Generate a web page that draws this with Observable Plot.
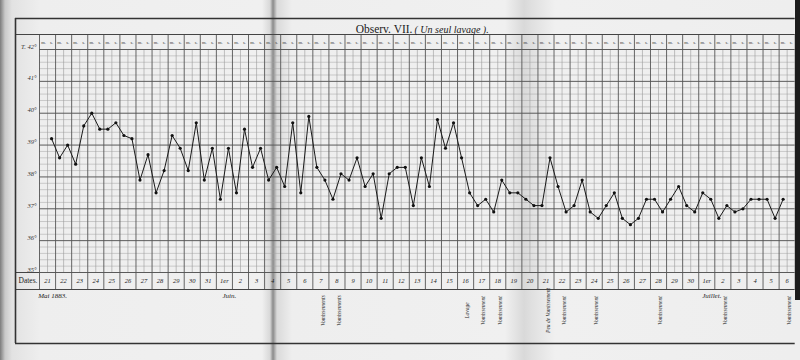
<!DOCTYPE html>
<html><head><meta charset="utf-8">
<script src="https://cdn.jsdelivr.net/npm/d3@7"></script>
<script src="https://cdn.jsdelivr.net/npm/@observablehq/plot@0.6"></script>
<style>
html,body{margin:0;padding:0;background:#ececec;}
#wrap{position:relative;width:800px;height:360px;overflow:hidden;
background:linear-gradient(to right,#7c7c7c 0px,#c9c9c9 5px,#e2e2e2 12px,#eeeeee 40px,#f0f0f0 262px,#d8d8d8 270px,#8a8a8a 273px,#dadada 277px,#eeeeee 292px,#f0f0f0 505px,#d9d9d9 524px,#e0e0e0 532px,#f0f0f0 555px,#eeeeee 788px);}
#edge{position:absolute;left:795px;top:0;width:5px;height:300px;background:#1c1c1c;}
</style></head><body>
<div id="wrap"><div id="chart"></div><div id="edge"></div></div>
<script>
// ---- data ----
const dayLabels = ["21","22","23","24","25","26","27","28","29","30","31",
  "1er","2","3","4","5","6","7","8","9","10","11","12","13","14","15","16","17","18","19","20",
  "21","22","23","24","25","26","27","28","29","30",
  "1er","2","3","4","5","6"];
const monthLabels = ["Mai 1883.", "Juin.", "Juillet."];
const monthFirstDay = [0, 11, 41];
// temperatures, matin / soir, starting on the evening of 21 May
const temperatures = [
  39.2,
  38.6, 39.0, 38.4, 39.6, 40.0, 39.5, 39.5, 39.7, 39.3, 39.2,
  37.9, 38.7, 37.5, 38.2, 39.3, 38.9, 38.2, 39.7, 37.9, 38.9,
  37.3, 38.9, 37.5, 39.5, 38.3, 38.9, 37.9, 38.3, 37.7, 39.7,
  37.5, 39.9, 38.3, 37.9, 37.3, 38.1, 37.9, 38.6, 37.7, 38.1,
  36.7, 38.1, 38.3, 38.3, 37.1, 38.6, 37.7, 39.8, 38.9, 39.7,
  38.6, 37.5, 37.1, 37.3, 36.9, 37.9, 37.5, 37.5, 37.3, 37.1,
  37.1, 38.6, 37.7, 36.9, 37.1, 37.9, 36.9, 36.7, 37.1, 37.5,
  36.7, 36.5, 36.7, 37.3, 37.3, 36.9, 37.3, 37.7, 37.1, 36.9,
  37.5, 37.3, 36.7, 37.1, 36.9, 37.0, 37.3, 37.3, 37.3, 36.7,
  37.3
];
const firstHalfDay = 1; // 0 = matin du 21 mai, 1 = soir
const yTickValues = [42, 41, 40, 39, 38, 37, 36, 35];
const yTickLabels = ["T. 42°", "41°", "40°", "39°", "38°", "37°", "36°", "35°"];
const noteDays = [17, 18, 26, 27, 28, 31, 32, 34, 38, 42, 46];
const noteTexts = ["Vomissements", "Vomissements", "Lavage", "Vomissement", "Vomissement",
  "Peu de Vomissement", "Vomissement", "Vomissement", "Vomissement", "Vomissement", "Vomissement"];
const titleMain = "Observ. VII.";
const titleSub = "( Un seul lavage ).";

// ---- derived tables ----
const nHalf = dayLabels.length * 2;
const points = temperatures.map((t, i) => ({h: i + firstHalfDay, t}));
const halfDays = d3.range(nHalf).map(h => ({h, lab: h % 2 ? "s." : "m."}));
const days = dayLabels.map((lab, d) => ({h: 2 * d + 0.5, lab}));
const months = monthLabels.map((lab, i) => ({h: 2 * monthFirstDay[i] + 0.5, lab}));
const notes = noteTexts.map((lab, i) => ({h: 2 * noteDays[i] + 0.75, lab}));
const yTicks = yTickValues.map((v, i) => ({v, lab: yTickLabels[i]}));

// layout helpers (pixel -> data units) for the printed form's frame
const W = 800, H = 360, mL = 39, mR = 5.3, mT = 49, mB = 88;
const xDom = [-0.5, nHalf - 0.5], yDom = [35, 42];
const xAt = px => xDom[0] + (px - mL) * (xDom[1] - xDom[0]) / (W - mL - mR);
const yAt = px => yDom[0] + (H - mB - px) * (yDom[1] - yDom[0]) / (H - mB - mT);
const yTitleTop = yAt(18), yHeadTop = yAt(34), yHeadMid = yAt(42.5), yTitle = yAt(29);
const yDatesBot = yAt(289), yDates = yAt(280.5), yBottom = yAt(343), yMonth = yAt(295), yNote = yAt(310);
const xLeft = xAt(15), xRight = xDom[1];
const minor = d3.range(35, 42.01, 0.2).filter(v => Math.abs(v - Math.round(v)) > 0.05);
const fontSerif = "Liberation Serif, DejaVu Serif, serif";

const plot = Plot.plot({
  width: W, height: H,
  marginLeft: mL, marginRight: mR, marginTop: mT, marginBottom: mB,
  x: {domain: xDom, axis: null},
  y: {domain: yDom, axis: null},
  style: {background: "transparent", fontFamily: fontSerif, overflow: "visible"},
  marks: [
    // grid
    Plot.ruleY(minor, {x1: xDom[0], x2: xDom[1], stroke: "#a2a2a2", strokeWidth: 0.5}),
    Plot.ruleX(d3.range(0.5, nHalf, 2), {y1: 35, y2: 42, stroke: "#9a9a9a", strokeWidth: 0.6}),
    Plot.ruleY(d3.range(35, 43), {x1: xDom[0], x2: xDom[1], stroke: "#5a5a5a", strokeWidth: 1}),
    Plot.ruleX(d3.range(-0.5, nHalf, 2), {y1: yDatesBot, y2: yHeadTop, stroke: "#555", strokeWidth: 0.9}),
    // frame of the printed form
    Plot.ruleY([yTitleTop], {x1: xLeft, x2: xRight, stroke: "#333", strokeWidth: 1.6}),
    Plot.ruleY([yHeadTop], {x1: xLeft, x2: xRight, stroke: "#444", strokeWidth: 1}),
    Plot.ruleY([35], {x1: xLeft, x2: xDom[0], stroke: "#444", strokeWidth: 1}),
    Plot.ruleY([yDatesBot], {x1: xLeft, x2: xRight, stroke: "#444", strokeWidth: 1}),
    Plot.ruleY([yBottom], {x1: xLeft, x2: xRight, stroke: "#333", strokeWidth: 1.6}),
    Plot.ruleX([xLeft], {y1: yBottom, y2: yTitleTop, stroke: "#333", strokeWidth: 1.6}),
    // header m. / s.
    Plot.text(halfDays, {x: "h", y: yHeadMid, text: "lab", fontSize: 4.5, fill: "#333"}),
    // y labels
    Plot.text(yTicks, {x: xDom[0], y: "v", text: "lab", textAnchor: "end", dx: -3, dy: -3, fontSize: 6.5, fontStyle: "italic", fill: "#333"}),
    // dates row
    Plot.text(["Dates."], {x: xLeft, y: yDates, text: d => d, textAnchor: "start", dx: 3, fontSize: 7.5, fill: "#222"}),
    Plot.text(days, {x: "h", y: yDates, text: "lab", fontSize: 6.5, fontStyle: "italic", fill: "#222"}),
    Plot.text(months, {x: "h", y: yMonth, text: "lab", fontSize: 7, fontStyle: "italic", dx: 5, fill: "#222"}),
    Plot.text(notes, {x: "h", y: yNote, text: "lab", rotate: -90, fontSize: 5.5, fontStyle: "italic", fill: "#2a2a2a"}),
    // title
    Plot.text([titleMain], {x: xAt(412), y: yTitle, text: d => d, textAnchor: "end", fontSize: 11.5, fill: "#222"}),
    Plot.text([titleSub], {x: xAt(414), y: yTitle, text: d => d, textAnchor: "start", fontSize: 10, fontStyle: "italic", fill: "#222"}),
    // temperature curve
    Plot.line(points, {x: "h", y: "t", stroke: "#1a1a1a", strokeWidth: 1}),
    Plot.dot(points, {x: "h", y: "t", r: 1.6, fill: "#111", stroke: "none"})
  ]
});
document.getElementById("chart").append(plot);
</script>
</body></html>
